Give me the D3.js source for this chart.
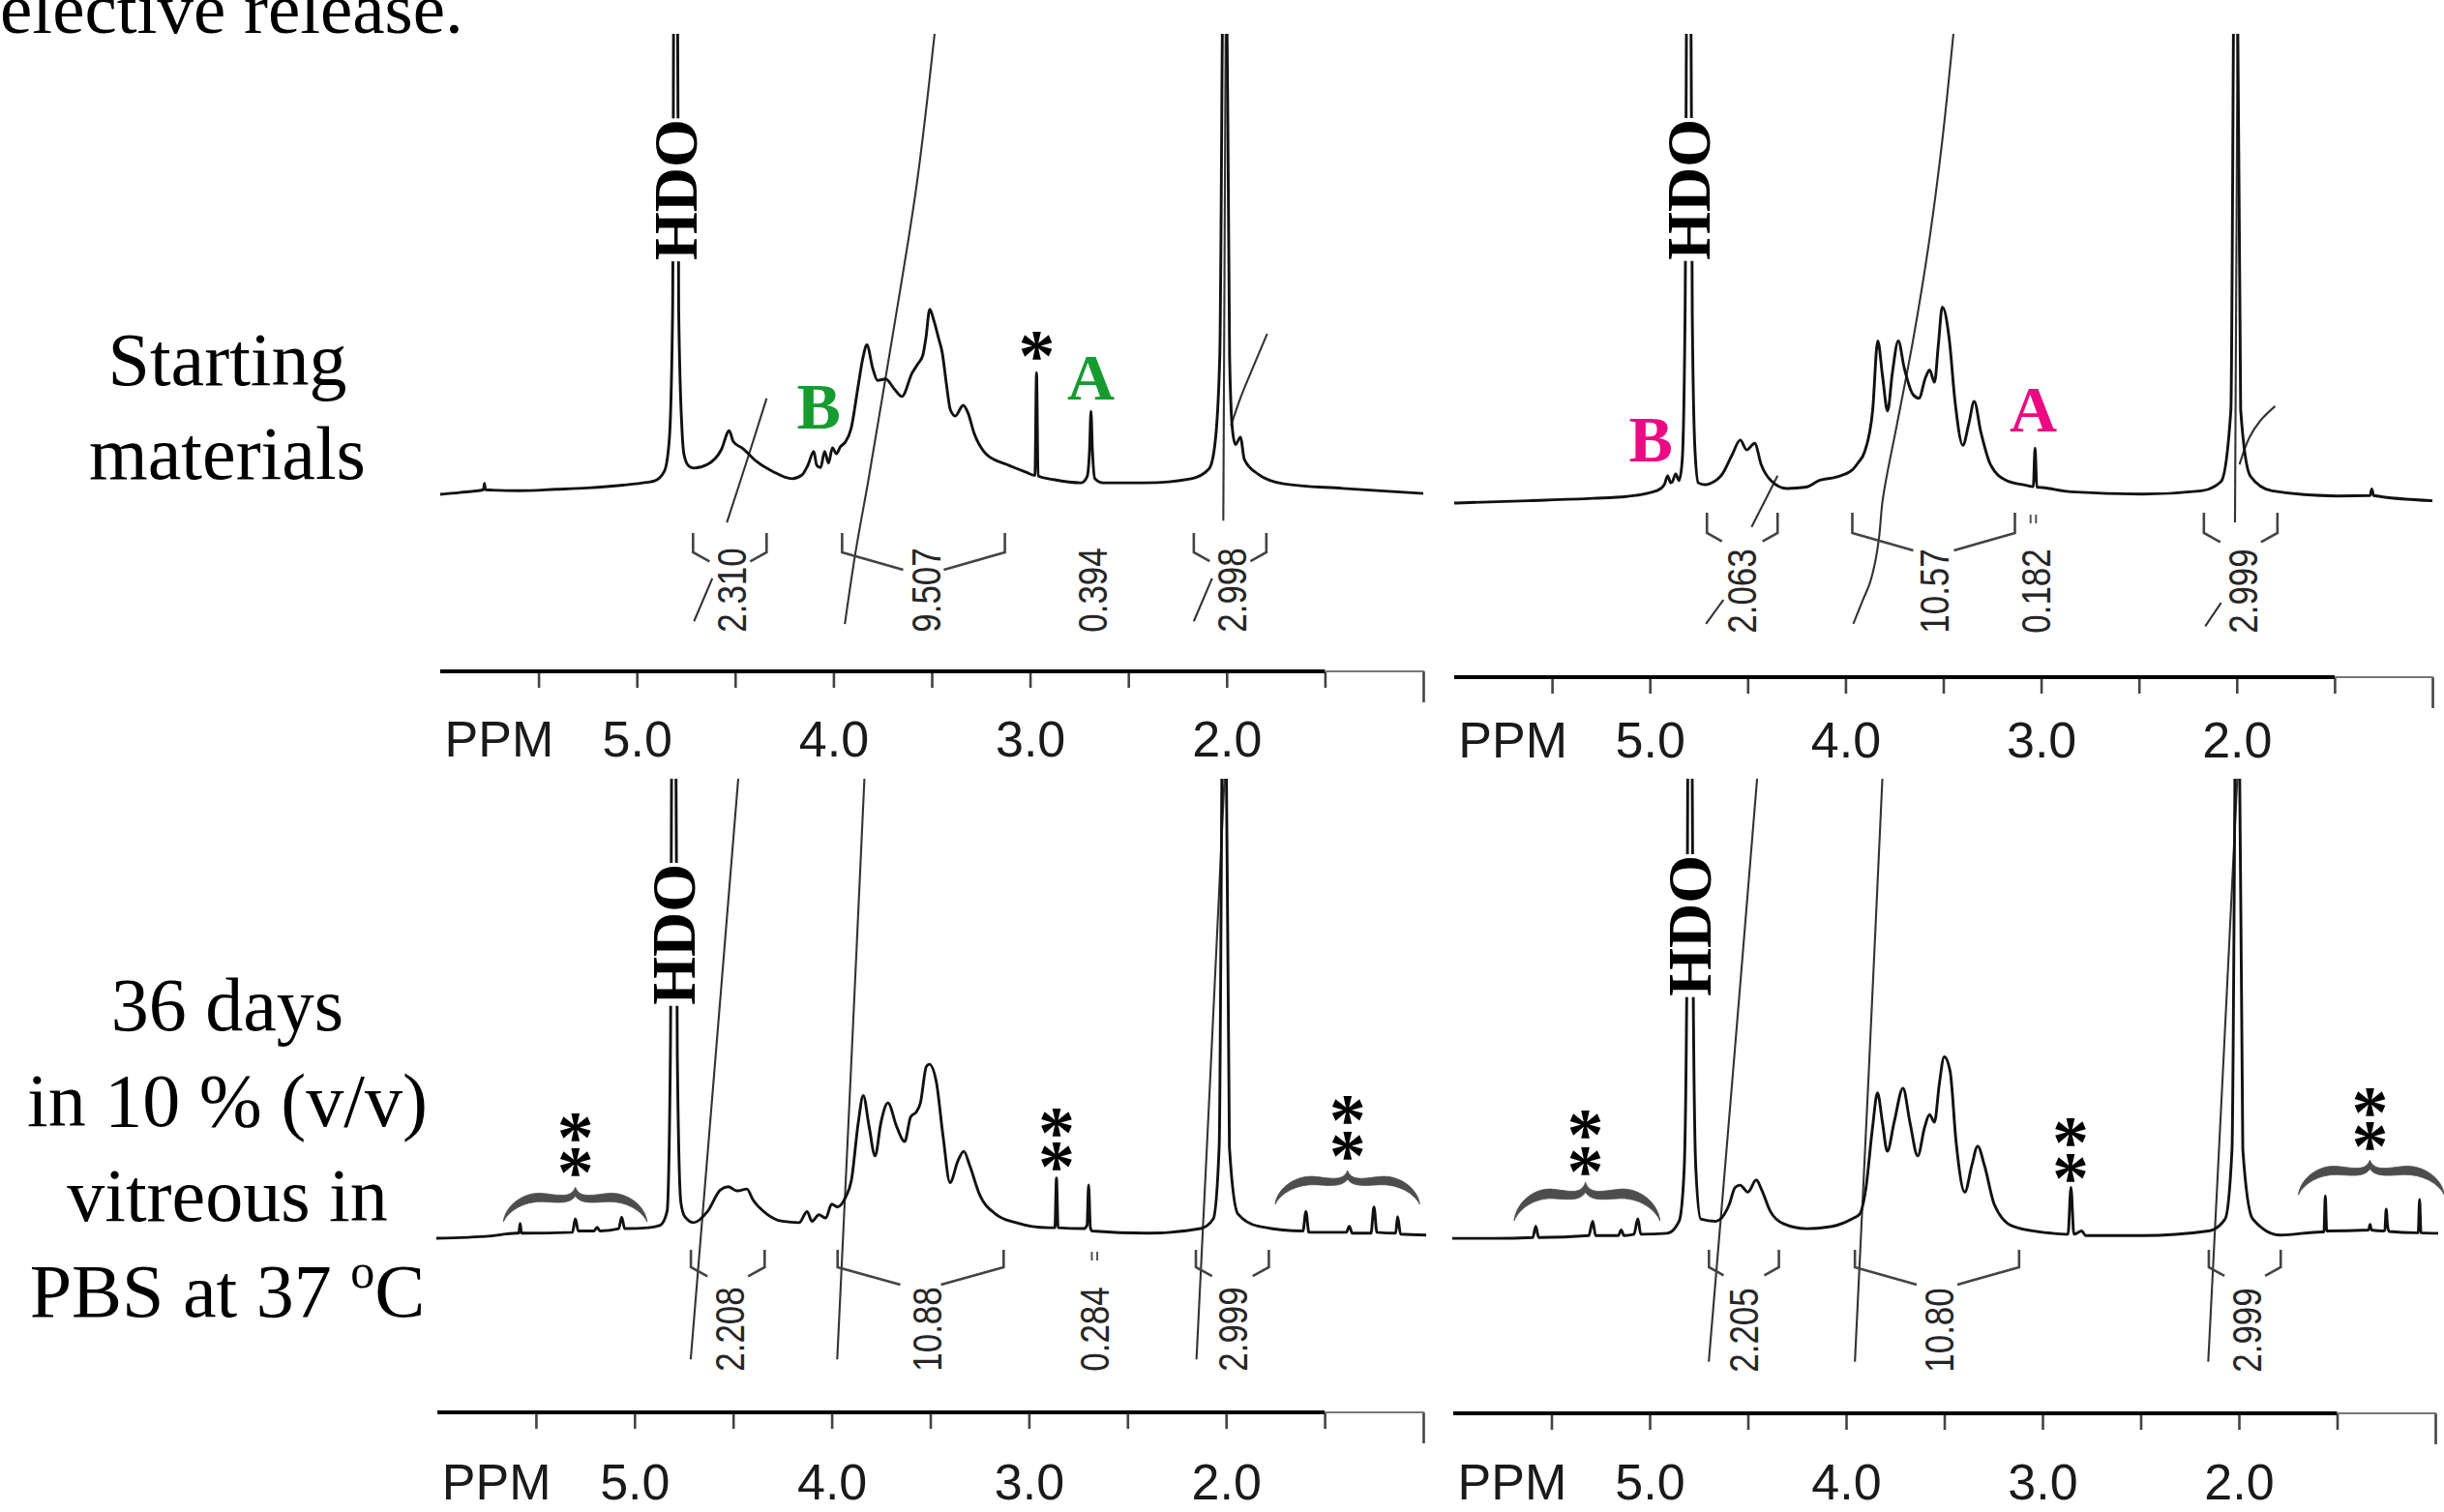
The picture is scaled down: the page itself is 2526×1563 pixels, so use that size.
<!DOCTYPE html>
<html><head><meta charset="utf-8">
<script src="https://cdn.jsdelivr.net/npm/d3@7"></script>
<style>html,body{margin:0;padding:0;background:#fff;}svg{display:block}</style>
</head><body>
<svg id="c" width="2526" height="1563"></svg>
<script>
// ---------------- DATA ----------------
const ppmTicks = [5.5,5.0,4.5,4.0,3.5,3.0,2.5,2.0,1.5,1.0];
const tickLabelValues = [5,4,3,2];
const tickLabels = ["5.0","4.0","3.0","2.0"];
const axisName = "PPM";
const topText = "elective release.";
const rowLabelsTop = ["Starting","materials"];
const rowLabelsBottom = ["36 days","in 10 % (v/v)","vitreous in","PBS at 37 "];
const hdoText = "HDO";

// spectra: [ppm, intensity]
const spectrumTL = [[6.00,0.2],[5.90,0.6],[5.78,1.2],[5.775,2.6],[5.77,1.2],[5.60,1.0],[5.41,1.3],[5.25,1.6],[5.07,2.2],[4.95,2.8],[4.91,3.1],[4.86,5.2],[4.835,12],[4.818,40],[4.81,130],[4.795,130],[4.787,40],[4.77,14],[4.76,8.8],[4.735,6.3],[4.71,5.9],[4.64,6.7],[4.57,9.9],[4.53,14.0],[4.51,11.7],[4.46,10.1],[4.39,7.3],[4.31,5.2],[4.21,3.6],[4.16,4.4],[4.13,6.5],[4.10,9.5],[4.085,6.5],[4.065,6.0],[4.045,9.5],[4.025,7.0],[4.005,10.3],[3.985,9.0],[3.965,10.5],[3.94,11.5],[3.91,14.5],[3.875,23.5],[3.85,29.8],[3.83,32.6],[3.80,27.5],[3.776,24.9],[3.735,25.2],[3.69,23.0],[3.652,21.4],[3.60,26.5],[3.57,28.5],[3.545,30.4],[3.53,34],[3.51,40.3],[3.49,38],[3.465,34],[3.447,31],[3.425,24],[3.405,18.5],[3.38,17.2],[3.34,19.5],[3.315,17.8],[3.285,13.5],[3.22,8.8],[3.12,6.7],[3.02,5.0],[2.975,4.3],[2.967,26.6],[2.959,4.2],[2.88,3.4],[2.74,2.7],[2.71,4.0],[2.697,10],[2.69,18.2],[2.683,10],[2.67,3.6],[2.63,2.7],[2.41,2.7],[2.18,3.6],[2.09,5.7],[2.06,10.9],[2.035,30],[2.014,130],[2.004,130],[1.985,30],[1.97,14],[1.955,11],[1.93,12.6],[1.91,7.8],[1.84,4.6],[1.71,2.5],[1.41,1.5],[1.00,0.4]];
const spectrumTR = [[6.00,0.2],[5.62,0.7],[5.29,1.2],[5.12,1.6],[4.96,2.9],[4.925,4.2],[4.909,6.0],[4.893,4.5],[4.885,4.7],[4.868,6.4],[4.851,5.0],[4.835,9],[4.82,40],[4.808,130],[4.793,130],[4.783,40],[4.769,11.2],[4.752,4.5],[4.72,4.1],[4.695,4.3],[4.629,6.4],[4.579,10.5],[4.538,13.6],[4.505,11.5],[4.464,12.9],[4.431,8.4],[4.381,5.0],[4.299,3.3],[4.20,3.6],[4.134,5.0],[4.051,5.7],[3.969,7.1],[3.935,8.8],[3.903,11.0],[3.861,20],[3.835,34.7],[3.81,27.0],[3.785,19.8],[3.76,28.0],[3.73,34.7],[3.70,29.0],[3.655,23.3],[3.625,22.5],[3.59,27.0],[3.57,28.5],[3.545,25.9],[3.525,34],[3.505,41.9],[3.47,35.2],[3.44,21.8],[3.40,12.5],[3.37,17.0],[3.342,21.8],[3.308,15.3],[3.259,8.4],[3.177,5.0],[3.078,4.0],[3.040,3.7],[3.031,11.9],[3.022,3.6],[2.995,3.5],[2.847,2.6],[2.48,2.1],[2.18,2.8],[2.08,4.8],[2.03,20],[2.010,130],[2.000,130],[1.98,20],[1.93,5.9],[1.82,2.8],[1.49,1.7],[1.318,1.8],[1.31,3.2],[1.30,1.8],[1.0,0.7]];
const spectrumBL = [[6.005,0.2],[5.73,0.7],[5.60,1.3],[5.587,1.3],[5.58,3.4],[5.573,1.3],[5.56,1.3],[5.315,1.5],[5.30,4.4],[5.285,1.8],[5.205,1.8],[5.19,2.6],[5.175,1.8],[5.08,2.3],[5.065,4.8],[5.05,2.3],[4.93,2.5],[4.87,3.0],[4.835,6],[4.818,40],[4.808,130],[4.793,130],[4.783,40],[4.765,8],[4.745,4.9],[4.70,3.6],[4.63,6.0],[4.565,10.7],[4.525,11.4],[4.48,10.5],[4.43,10.9],[4.40,8.6],[4.33,5.5],[4.25,3.9],[4.165,3.6],[4.125,6.0],[4.10,3.9],[4.065,5.3],[4.03,4.6],[4.00,7.6],[3.97,7.0],[3.93,9.1],[3.90,12.8],[3.865,25.4],[3.84,31.2],[3.81,24.4],[3.78,18.1],[3.75,25.4],[3.715,29.6],[3.67,24.4],[3.63,21.2],[3.60,26.5],[3.57,27.7],[3.55,29.6],[3.52,37.5],[3.505,38.0],[3.47,34.3],[3.435,22.3],[3.40,12.3],[3.36,17.0],[3.33,19.1],[3.30,16.0],[3.25,9.7],[3.17,5.5],[3.065,3.6],[2.90,2.5],[2.868,2.5],[2.86,13.3],[2.852,2.5],[2.72,2.3],[2.705,3],[2.697,11.8],[2.688,2.5],[2.68,1.8],[2.40,1.3],[2.13,2.3],[2.065,4.4],[2.035,20],[2.014,130],[2.004,130],[1.983,20],[1.94,5.5],[1.835,2.8],[1.61,1.8],[1.595,6.0],[1.58,1.5],[1.39,1.5],[1.375,2.8],[1.36,1.3],[1.265,1.3],[1.25,7.0],[1.235,1.5],[1.14,1.3],[1.13,4.9],[1.115,1.1],[0.985,0.9]];
const spectrumBR = [[6.005,0.8],[5.79,0.8],[5.595,1.0],[5.58,3.4],[5.565,1.0],[5.31,1.4],[5.29,4.5],[5.275,1.4],[5.16,1.4],[5.145,2.6],[5.13,1.4],[5.08,1.7],[5.06,5.0],[5.045,1.7],[4.91,1.9],[4.85,4.5],[4.825,15],[4.81,60],[4.802,130],[4.787,130],[4.779,60],[4.765,16],[4.74,5.0],[4.665,4.5],[4.595,8.1],[4.565,11.8],[4.54,12.3],[4.50,10.8],[4.457,13.4],[4.43,11.3],[4.385,6.6],[4.32,4.0],[4.20,2.9],[4.07,3.4],[3.97,5.0],[3.93,6.1],[3.90,11.3],[3.865,24.8],[3.84,32.2],[3.815,25.9],[3.79,19.6],[3.755,25.9],[3.71,33.2],[3.675,25.9],[3.635,18.6],[3.60,24.8],[3.575,27.5],[3.55,25.9],[3.525,34.2],[3.50,40.0],[3.47,36.8],[3.44,21.7],[3.395,10.8],[3.36,16.5],[3.33,20.7],[3.295,16.5],[3.245,8.1],[3.15,3.4],[2.95,1.9],[2.87,1.7],[2.855,11.8],[2.84,1.7],[2.80,2.4],[2.78,1.4],[2.49,1.4],[2.155,2.4],[2.07,5.0],[2.035,20],[2.012,130],[2.002,130],[1.98,20],[1.93,5.0],[1.79,1.5],[1.58,2.2],[1.567,2.2],[1.56,10],[1.553,2.4],[1.34,2.6],[1.332,3.8],[1.325,2.6],[1.265,2.4],[1.257,2.5],[1.25,7.1],[1.243,3.5],[1.235,2.3],[1.10,2.0],[1.087,2.0],[1.08,9.2],[1.073,2.0],[0.985,1.9]];

// integral curves: lists of [ppm, integral height]
const integralsTL = [
  [[4.709,-27.3],[4.616,-18.0]],
  [[4.542,-5.9],[4.44,7.5],[4.34,21.0]],
  [[3.942,-27.9],[3.887,-12.2],[3.823,3.1],[3.759,19.3],[3.695,35.6],[3.576,67.5],[3.483,101]],
  [[2.167,-27.3],[2.074,-18.0]],
  [[2.017,-5.5],[2.005,101]],
  [[1.978,15.1],[1.927,21.4],[1.877,26.6],[1.794,35.0]]
];
const integralsTR = [
  [[4.713,-25.5],[4.624,-20.4]],
  [[4.48,-4.9],[4.347,6.0]],
  [[3.960,-25.5],[3.911,-20.4],[3.876,-16.9],[3.847,-12.1],[3.827,-6.6],[3.812,0.2],[3.792,5.3],[3.738,16.7],[3.653,35.2],[3.569,56.8],[3.505,77.4],[3.446,101]],
  [[2.161,-26.0],[2.080,-21.0]],
  [[2.009,-3.9],[1.996,101]],
  [[1.986,8.4],[1.936,14.1],[1.880,17.7],[1.804,20.8]]
];
const integralsBL = [
  [[4.715,-26.1],[4.594,37],[4.472,101]],
  [[3.972,-26.1],[3.902,37],[3.833,101]],
  [[2.150,-26.1],[2.078,37],[2.007,101]]
];
const integralsBR = [
  [[4.699,-25.8],[4.575,37],[4.451,101]],
  [[3.955,-25.8],[3.884,37],[3.814,101]],
  [[2.156,-25.8],[2.081,37],[2.007,101]]
];

// integral regions [from ppm, to ppm] and values [text, ppm]
const bracketsTL = [[4.714,4.340],[3.956,3.128],[2.167,1.798]];
const bracketsTR = [[4.708,4.347],[3.965,3.134],[2.168,1.792]];
const bracketsBL = [[4.714,4.340],[3.970,3.128],[2.153,1.783]];
const bracketsBR = [[4.698,4.342],[3.955,3.119],[2.153,1.787]];
const tinyTL = [], tinyTR = [3.04], tinyBL = [2.667], tinyBR = [];
const integralValuesTL = [["2.310",4.517],["9.507",3.527],["0.394",2.682],["2.998",1.975]];
const integralValuesTR = [["2.063",4.530],["10.57",3.547],["0.182",3.025],["2.999",1.970]];
const integralValuesBL = [["2.208",4.515],["10.88",3.516],["0.284",2.667],["2.999",1.966]];
const integralValuesBR = [["2.205",4.520],["10.80",3.525],["2.999",1.957]];

// peak letters [text, ppm, intensity of baseline]
const lettersTL = [["B",4.075,14.5],["A",2.69,20.8]];
const lettersTR = [["B",4.995,9.0],["A",3.04,15.4]];
// HDO label centre [ppm, intensity]
const hdoTL = [4.80,66.2], hdoTR = [4.80,66.9], hdoBL = [4.80,66.2], hdoBR = [4.795,68.3];
// asterisk stacks [ppm, centre intensity of each asterisk...]
const starsTL = [[2.966,32.1]];
const starsTR = [];
const starsBL = [[5.30,23.9,16.5],[2.86,25.1,17.7],[1.384,27.7,20.1]];
const starsBR = [[5.327,25.0,17.2],[2.857,23.5,15.7],[1.332,29.8,22.6]];
// braces [from ppm, to ppm, tip ppm, end intensity, tip intensity]
const bracesBL = [[5.665,4.936,5.30,3.8,11.3],[1.751,1.018,1.384,7.6,14.9]];
const bracesBR = [[5.690,4.947,5.327,4.6,12.9],[1.697,0.954,1.333,10.2,17.7]];

// ---------------- LAYOUT ----------------
const SERIF = "'Liberation Serif','Times New Roman',Times,serif";
const SANS = "'Liberation Sans',Arial,Helvetica,sans-serif";
const GREEN = "#169b2e", MAGENTA = "#ec0a84";
const panels = [
  {key:"TL", x0:455, x1:1471, top:35, base:512, axisY:694, pad:34, bTop:551, bCorner:571, labY:610,
   spec:spectrumTL, ints:integralsTL, brs:bracketsTL, tiny:tinyTL, vals:integralValuesTL, letters:lettersTL, letterColor:GREEN, hdo:hdoTL, stars:starsTL, braces:[]},
  {key:"TR", x0:1503, x1:2514, top:35, base:521, axisY:700, pad:29, bTop:530, bCorner:551, labY:611,
   spec:spectrumTR, ints:integralsTR, brs:bracketsTR, tiny:tinyTR, vals:integralValuesTR, letters:lettersTR, letterColor:MAGENTA, hdo:hdoTR, stars:starsTR, braces:[]},
  {key:"BL", x0:452, x1:1471, top:805, base:1281, axisY:1460, pad:36, bTop:1292, bCorner:1310, labY:1374,
   spec:spectrumBL, ints:integralsBL, brs:bracketsBL, tiny:tinyBL, vals:integralValuesBL, letters:[], letterColor:GREEN, hdo:hdoBL, stars:starsBL, braces:bracesBL},
  {key:"BR", x0:1502, x1:2517, top:805, base:1284, axisY:1461, pad:35, bTop:1292, bCorner:1310, labY:1375,
   spec:spectrumBR, ints:integralsBR, brs:bracketsBR, tiny:tinyBR, vals:integralValuesBR, letters:[], letterColor:MAGENTA, hdo:hdoBR, stars:starsBR, braces:bracesBR}
];

const svg = d3.select("#c");
svg.append("rect").attr("width",2526).attr("height",1563).attr("fill","#fff");
const defs = svg.append("defs");

function bracePath(xL, xR, xc, yE, yT){
  const a = xc - xL, b = xR - xc, h = yE - yT;
  const L = (rx, ry) => [xL + rx*a, yE - ry*h];
  const R = (rx, ry) => [xc + rx*b, yE - ry*h];
  const p = d3.path();
  p.moveTo(...L(0,0));
  p.bezierCurveTo(...L(0.03,0.5), ...L(0.3,0.88), ...L(0.55,0.82));
  p.bezierCurveTo(...L(0.76,0.78), ...L(0.94,0.66), xc, yT);
  p.bezierCurveTo(...R(0.06,0.66), ...R(0.24,0.78), ...R(0.45,0.82));
  p.bezierCurveTo(...R(0.7,0.88), ...R(0.97,0.5), ...R(1,0));
  p.bezierCurveTo(...R(0.92,0.34), ...R(0.7,0.6), ...R(0.45,0.58));
  p.bezierCurveTo(...R(0.25,0.56), ...R(0.08,0.5), xc, yE - 0.74*h);
  p.bezierCurveTo(...L(0.92,0.5), ...L(0.75,0.56), ...L(0.55,0.58));
  p.bezierCurveTo(...L(0.3,0.6), ...L(0.08,0.34), ...L(0,0));
  p.closePath();
  return p.toString();
}

panels.forEach(p => {
  const x = d3.scaleLinear().domain([6.0,1.0]).range([p.x0,p.x1]);
  const y = d3.scaleLinear().domain([0,100]).range([p.base,p.top]);
  const g = svg.append("g");
  const clipId = "clip"+p.key;
  defs.append("clipPath").attr("id",clipId).append("rect")
    .attr("x",p.x0-20).attr("y",p.top).attr("width",p.x1-p.x0+40).attr("height",p.axisY-p.top-8);
  const cg = g.append("g").attr("clip-path",`url(#${clipId})`);

  // integral curves
  const iline = d3.line().x(d=>x(d[0])).y(d=>y(d[1])).curve(d3.curveCatmullRom.alpha(0.5));
  cg.selectAll("path.int").data(p.ints).join("path").attr("class","int")
    .attr("d",iline).attr("fill","none").attr("stroke","#333").attr("stroke-width",2.1);

  // spectrum
  const sline = d3.line().x(d=>x(d[0])).y(d=>y(d[1])).curve(d3.curveMonotoneX);
  cg.append("path").datum(p.spec).attr("d",sline).attr("fill","none")
    .attr("stroke","#111").attr("stroke-width",2.9).attr("stroke-linejoin","round");

  // brackets
  p.brs.forEach(([a,b]) => {
    const xa = x(a), xb = x(b), xm = (xa+xb)/2;
    const innerL = xm - 21, innerR = xm + 21;
    const dyL = Math.min(18, 0.55*(innerL - xa));
    const pth = d3.path();
    pth.moveTo(xa, p.bTop); pth.lineTo(xa, p.bCorner); pth.lineTo(innerL, p.bCorner+dyL);
    pth.moveTo(xb, p.bTop); pth.lineTo(xb, p.bCorner); pth.lineTo(innerR, p.bCorner+dyL);
    g.append("path").attr("d",pth.toString()).attr("fill","none").attr("stroke","#444").attr("stroke-width",2.6);
  });
  p.tiny.forEach(t => {
    const xt = x(t);
    [-2.8,2.8].forEach(o => g.append("line").attr("x1",xt+o).attr("x2",xt+o)
      .attr("y1",p.bTop+2).attr("y2",p.bTop+11).attr("stroke","#555").attr("stroke-width",2));
  });
  // integral values
  p.vals.forEach(([txt,pp]) => {
    g.append("text").attr("transform",`translate(${x(pp)},${p.labY}) rotate(-90) scale(1,1.2)`)
      .attr("text-anchor","middle").attr("dominant-baseline","central")
      .attr("font-family",SANS).attr("font-size",35).attr("fill","#262626").text(txt);
  });

  // HDO label with white knock-out
  {
    const hg = g.append("g").attr("transform",`translate(${x(p.hdo[0])},${y(p.hdo[1])}) rotate(-90)`);
    const r = hg.append("rect").attr("fill","#fff");
    const t = hg.append("text").attr("text-anchor","middle").attr("dominant-baseline","central")
      .attr("font-family",SERIF).attr("font-weight","bold").attr("font-size",64).attr("fill","#000").text(hdoText);
    const bb = t.node().getBBox();
    r.attr("x",bb.x-1).attr("width",bb.width+2).attr("y",-9).attr("height",18);
  }

  // letters
  p.letters.forEach(([txt,pp,vv]) => {
    g.append("text").attr("x",x(pp)).attr("y",y(vv)).attr("text-anchor","middle")
      .attr("font-family",SERIF).attr("font-weight","bold").attr("font-size",68)
      .attr("fill",p.letterColor).text(txt);
  });
  // asterisks (one text per stack)
  const STAR = 76, STAR_OFF = 0.45*STAR;
  p.stars.forEach(s => {
    const pp = s[0], vs = s.slice(1);
    const t = g.append("text").attr("text-anchor","middle")
      .attr("font-family",SERIF).attr("font-weight","bold").attr("font-size",STAR).attr("fill","#000");
    vs.forEach((vv,i) => {
      const yy = y(vv) + STAR_OFF;
      t.append("tspan").attr("x",x(pp)).attr(i===0 ? "y" : "dy", i===0 ? yy : yy - (y(vs[i-1]) + STAR_OFF)).text("*");
    });
  });
  // braces
  p.braces.forEach(([a,b,tip,ve,vt]) => {
    g.append("path").attr("d",bracePath(x(a),x(b),x(tip),y(ve),y(vt)))
      .attr("fill","#4d4d4d").attr("stroke","#4d4d4d").attr("stroke-width",0.8);
  });

  // axis
  const axis = d3.axisBottom(x).tickValues(ppmTicks).tickSize(17).tickPadding(p.pad)
    .tickFormat(d => { const i = tickLabelValues.indexOf(d); return i>=0 ? tickLabels[i] : ""; });
  const ag = g.append("g").attr("transform",`translate(0,${p.axisY})`).call(axis);
  ag.select(".domain").remove();
  ag.selectAll(".tick line").attr("stroke","#444").attr("stroke-width",2.6);
  ag.selectAll(".tick").filter(d => d===1.0).select("line").attr("y2",32);
  ag.selectAll(".tick text").attr("font-family",SANS).attr("font-size",52).attr("fill","#1a1a1a");
  g.append("line").attr("x1",x(6.0)).attr("x2",x(1.5)).attr("y1",p.axisY).attr("y2",p.axisY)
    .attr("stroke","#000").attr("stroke-width",4.2);
  g.append("line").attr("x1",x(1.5)).attr("x2",x(1.0)+1).attr("y1",p.axisY).attr("y2",p.axisY)
    .attr("stroke","#777").attr("stroke-width",2.2);
  g.append("text").attr("x",x(5.70)).attr("y",p.axisY+17+p.pad).attr("dy","0.71em")
    .attr("text-anchor","middle").attr("font-family",SANS).attr("font-size",52).attr("fill","#1a1a1a").text(axisName);
});

// left-hand row labels
svg.append("text").attr("x",0).attr("y",34).attr("font-family",SERIF).attr("font-size",75).text(topText);
const topBaselines = [398,495];
rowLabelsTop.forEach((t,i) => svg.append("text").attr("x",235).attr("y",topBaselines[i])
  .attr("text-anchor","middle").attr("font-family",SERIF).attr("font-size",78).text(t));
const botBaselines = [1065,1164,1262,1361];
rowLabelsBottom.forEach((t,i) => {
  const tx = svg.append("text").attr("x",235).attr("y",botBaselines[i])
    .attr("text-anchor","middle").attr("font-family",SERIF).attr("font-size",78);
  tx.append("tspan").text(t);
  if (i === 3) {
    tx.append("tspan").attr("font-size",50).attr("dy",-30).text("o");
    tx.append("tspan").attr("dy",30).text("C");
  }
});
</script>
</body></html>
